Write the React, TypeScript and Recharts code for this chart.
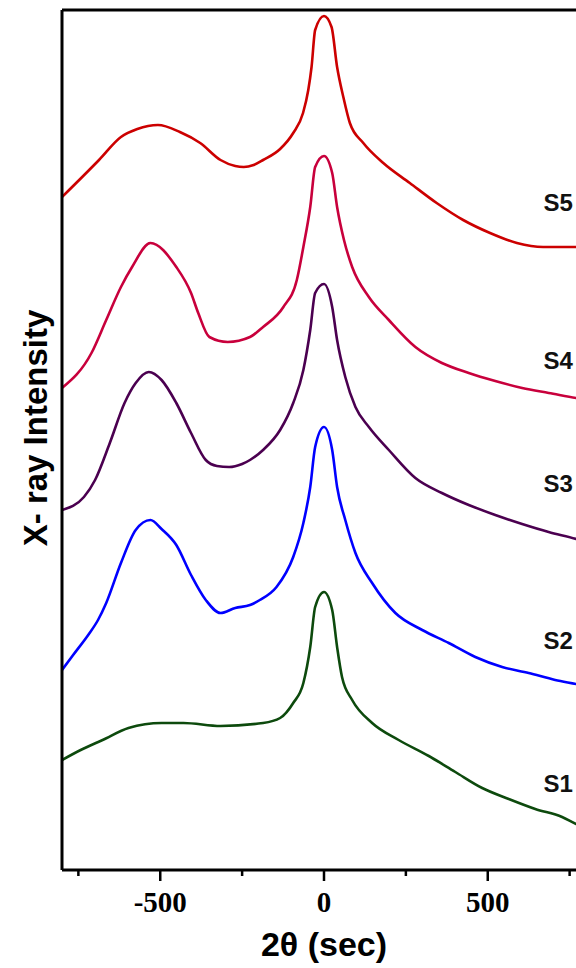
import { LineChart, Line, XAxis, YAxis, ReferenceLine, ReferenceDot } from 'recharts';

// 2θ offsets (sec) and intensity (arb. units)
const s5Angle = [-800, -687, -620, -570, -507, -440, -378, -316, -271, -245, -215, -186, -134, -94, -64, -48, -38, -27, 0, 23, 40, 59, 79, 120, 181, 262, 344, 425, 507, 589, 669, 770, 800];
const s5Counts = [673, 710, 733, 741, 745, 738, 727, 710, 704, 703, 705, 710, 721, 737, 757, 780, 803, 840, 854, 843, 803, 773, 747, 727, 707, 687, 667, 650, 637, 627, 623, 623, 623];

const s4Angle = [-800, -710, -665, -620, -586, -530, -451, -406, -384, -350, -294, -226, -186, -124, -83, -63, -42, -27, 0, 25, 40, 61, 86, 137, 198, 279, 360, 442, 523, 605, 686, 770, 800];
const s4Counts = [482, 517, 550, 583, 603, 627, 603, 577, 557, 533, 528, 533, 543, 563, 590, 623, 663, 703, 714, 697, 663, 630, 603, 573, 550, 523, 507, 497, 489, 482, 477, 472, 470];

const s3Angle = [-800, -733, -699, -654, -609, -575, -535, -496, -451, -406, -361, -327, -290, -250, -226, -186, -134, -94, -63, -42, -27, 0, 25, 40, 65, 96, 137, 198, 279, 360, 442, 523, 605, 686, 770, 800];
const s3Counts = [360, 373, 390, 427, 467, 487, 498, 490, 467, 437, 410, 404, 403, 406, 410, 420, 440, 467, 500, 540, 577, 586, 563, 530, 493, 463, 443, 420, 392, 377, 365, 355, 346, 338, 331, 328];

const s2Angle = [-800, -766, -720, -690, -665, -620, -575, -530, -496, -451, -406, -361, -316, -271, -226, -196, -145, -94, -63, -42, -27, 0, 25, 40, 65, 96, 147, 218, 300, 381, 462, 544, 625, 706, 770, 800];
const s2Counts = [200, 215, 235, 250, 267, 307, 340, 350, 341, 325, 295, 270, 257, 262, 265, 270, 283, 313, 347, 383, 423, 443, 420, 383, 350, 317, 287, 257, 240, 227, 213, 203, 197, 190, 186, 184];

const s1Angle = [-800, -743, -676, -597, -496, -429, -316, -186, -134, -94, -63, -42, -27, 0, 25, 40, 55, 86, 147, 228, 320, 401, 483, 564, 645, 727, 770, 800];
const s1Counts = [110, 120, 130, 142, 147, 147, 144, 147, 152, 167, 187, 223, 263, 278, 260, 223, 193, 170, 147, 130, 114, 98, 82, 71, 61, 53, 46, 42];

const sampleNames = ['S5', 'S4', 'S3', 'S2', 'S1'];
const sampleColors = ['#cc0000', '#c8003c', '#4b0050', '#0000ff', '#0d4a0d'];
const labelAngle = 670;
const labelCounts = [668, 510, 387, 230, 87];

const xTicks = [-750, -500, -250, 0, 250, 500, 750];

const toPoints = (xs: number[], ys: number[]) => xs.map((x, i) => ({ x, y: ys[i] }));

const series = [
  toPoints(s5Angle, s5Counts),
  toPoints(s4Angle, s4Counts),
  toPoints(s3Angle, s3Counts),
  toPoints(s2Angle, s2Counts),
  toPoints(s1Angle, s1Counts),
];

function AxisTick({ x, y, payload }: any) {
  const v = payload.value;
  const major = v % 500 === 0;
  return (
    <g>
      <line x1={x} x2={x} y1={y} y2={y + (major ? 11 : 6)} stroke="#000" strokeWidth={2.5} />
      {major && (
        <text x={x} y={y + 42} textAnchor="middle" fontFamily="'Liberation Serif', 'Times New Roman', serif" fontWeight="bold" fontSize={29} fill="#000">
          {v}
        </text>
      )}
    </g>
  );
}

const sansBold = { fontFamily: "'Liberation Sans', Arial, sans-serif", fontWeight: 'bold' as const };

export default function App() {
  return (
    <div style={{ position: 'absolute', left: 0, top: 0, width: 576, height: 968, overflow: 'hidden', background: '#fff' }}>
      <LineChart width={600} height={968} margin={{ top: 10, right: 14, left: 60, bottom: 0 }}>
        <XAxis
          type="number"
          dataKey="x"
          domain={[-800, 800]}
          ticks={xTicks}
          interval={0}
          allowDataOverflow
          tickSize={0}
          tickMargin={0}
          tickLine={false}
          tick={<AxisTick />}
          axisLine={{ stroke: '#000', strokeWidth: 3 }}
          height={98}
          label={{
            content: ({ viewBox }: any) => (
              <text x={viewBox.x + viewBox.width / 2} y={viewBox.y + 86} textAnchor="middle" fontSize={34} fill="#000" {...sansBold}>
                2θ (sec)
              </text>
            ),
          }}
        />
        <YAxis
          type="number"
          dataKey="y"
          domain={[0, 860]}
          width={2}
          tick={false}
          tickLine={false}
          axisLine={{ stroke: '#000', strokeWidth: 3 }}
          label={{
            content: () => {
              const cx = 35;
              const cy = 428;
              return (
                <text x={cx} y={cy} transform={`rotate(-90 ${cx} ${cy})`} textAnchor="middle" dominantBaseline="central" fontSize={33} fill="#000" {...sansBold}>
                  X- ray Intensity
                </text>
              );
            },
          }}
        />
        <ReferenceLine y={860} stroke="#000" strokeWidth={3} />
        {series.map((d, i) => (
          <Line
            key={sampleNames[i]}
            data={d}
            dataKey="y"
            type="monotone"
            stroke={sampleColors[i]}
            strokeWidth={2.6}
            dot={false}
            isAnimationActive={false}
          />
        ))}
        {sampleNames.map((name, i) => (
          <ReferenceDot
            key={name}
            x={labelAngle}
            y={labelCounts[i]}
            r={0}
            fill="none"
            stroke="none"
            ifOverflow="visible"
            label={{
              content: ({ viewBox }: any) => (
                <text x={viewBox.x} y={viewBox.y} dominantBaseline="central" fontSize={24} fill="#111" {...sansBold}>
                  {name}
                </text>
              ),
            }}
          />
        ))}
      </LineChart>
    </div>
  );
}
